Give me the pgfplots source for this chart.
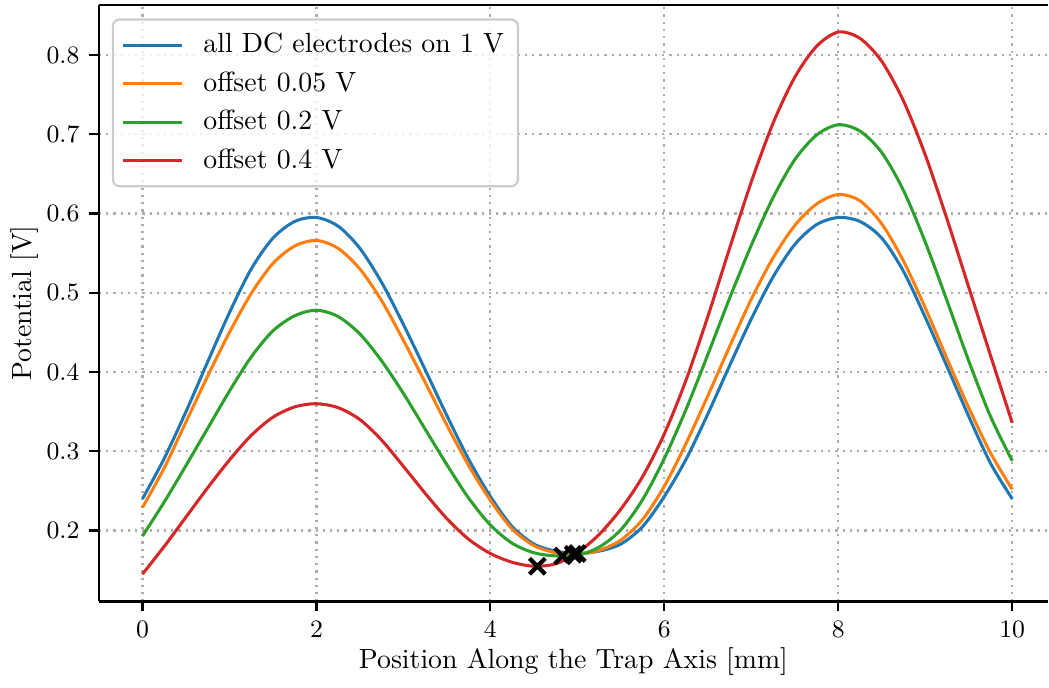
\documentclass[border=0pt]{standalone}
\usepackage{pgfplots}
\pgfplotsset{compat=1.18}
\definecolor{tabblue}{HTML}{1F77B4}
\definecolor{taborange}{HTML}{FF7F0E}
\definecolor{tabgreen}{HTML}{2CA02C}
\definecolor{tabred}{HTML}{D62728}

\begin{document}
\begin{tikzpicture}
\begin{axis}[
  scale only axis,
  width=341.7pt, height=214.9pt,
  xmin=-0.5, xmax=10.41, ymin=0.1105, ymax=0.8635,
  axis x line=box, axis y line=left,
  axis line style={-, line width=0.8pt},
  xtick={0,2,4,6,8,10},
  ytick={0.2,0.3,0.4,0.5,0.6,0.7,0.8},
  xtick pos=lower, ytick pos=left,
  tick align=outside, major tick length=3.5pt,
  tick style={line width=0.8pt, black},
  tick label style={font=\small},
  yticklabel style={/pgf/number format/fixed, /pgf/number format/precision=1, /pgf/number format/fixed zerofill},
  grid=major,
  grid style={black!32, line width=0.8pt, dash pattern=on 0.8pt off 1.8pt},
  xlabel={Position Along the Trap Axis [mm]},
  ylabel={Potential [V]},
  xlabel shift=-3pt, ylabel shift=-4pt,
  legend cell align=left,
  legend image code/.code={\draw[#1, line width=1.1pt] (0pt,0pt) -- (21.2pt,0pt);},
  legend style={at={(0,1)}, anchor=north west, xshift=4.6pt, yshift=-4.9pt,
    draw=black!20, line width=0.8pt, rounded corners=2.5pt,
    fill=white, fill opacity=0.8, text opacity=1,
    inner xsep=3pt, inner ysep=3pt, row sep=1.3pt,
    /tikz/every odd column/.append style={column sep=5.3pt}},
]
% all DC electrodes on 1 V
\addplot[tabblue, line width=1.1pt, smooth] coordinates {
  (0,0.240) (0.25,0.291) (0.5,0.350) (0.75,0.413) (1,0.475) (1.25,0.530)
  (1.5,0.569) (1.75,0.590) (2,0.595) (2.25,0.584) (2.5,0.556) (2.75,0.513)
  (3,0.460) (3.25,0.403) (3.5,0.345) (3.75,0.290) (4,0.243) (4.25,0.205)
  (4.5,0.183) (4.75,0.174) (5,0.171) (5.25,0.174) (5.5,0.183) (5.75,0.205)
  (6,0.243) (6.25,0.290) (6.5,0.347) (6.75,0.408) (7,0.467) (7.25,0.520)
  (7.5,0.561) (7.75,0.586) (8,0.595) (8.25,0.590) (8.5,0.569) (8.75,0.527)
  (9,0.469) (9.25,0.407) (9.5,0.344) (9.75,0.285) (10,0.240)};
\addlegendentry{all DC electrodes on 1 V}
% offset 0.05 V
\addplot[taborange, line width=1.1pt, smooth] coordinates {
  (0,0.229) (0.25,0.279) (0.5,0.337) (0.75,0.395) (1,0.450) (1.25,0.499)
  (1.5,0.537) (1.75,0.559) (2,0.566) (2.25,0.556) (2.5,0.530) (2.75,0.490)
  (3,0.440) (3.25,0.387) (3.5,0.333) (3.75,0.282) (4,0.238) (4.25,0.202)
  (4.5,0.181) (4.75,0.172) (5,0.170) (5.25,0.175) (5.5,0.188) (5.75,0.214)
  (6,0.256) (6.25,0.310) (6.5,0.370) (6.75,0.432) (7,0.492) (7.25,0.544)
  (7.5,0.585) (7.75,0.612) (8,0.624) (8.25,0.616) (8.5,0.587) (8.75,0.540)
  (9,0.481) (9.25,0.417) (9.5,0.355) (9.75,0.298) (10,0.252)};
\addlegendentry{offset 0.05 V}
% offset 0.2 V
\addplot[tabgreen, line width=1.1pt, smooth] coordinates {
  (0,0.193) (0.25,0.236) (0.5,0.282) (0.75,0.329) (1,0.376) (1.25,0.419)
  (1.5,0.452) (1.75,0.471) (2,0.478) (2.25,0.470) (2.5,0.448) (2.75,0.414)
  (3,0.373) (3.25,0.328) (3.5,0.283) (3.75,0.241) (4,0.207) (4.25,0.184)
  (4.5,0.172) (4.75,0.168) (5,0.169) (5.25,0.179) (5.5,0.201) (5.75,0.239)
  (6,0.291) (6.25,0.353) (6.5,0.422) (6.75,0.493) (7,0.560) (7.25,0.620)
  (7.5,0.668) (7.75,0.699) (8,0.712) (8.25,0.704) (8.5,0.677) (8.75,0.629)
  (9,0.564) (9.25,0.490) (9.5,0.414) (9.75,0.344) (10,0.288)};
\addlegendentry{offset 0.2 V}
% offset 0.4 V
\addplot[tabred, line width=1.1pt, smooth] coordinates {
  (0,0.145) (0.25,0.180) (0.5,0.217) (0.75,0.254) (1,0.289) (1.25,0.320)
  (1.5,0.343) (1.75,0.356) (2,0.360) (2.25,0.355) (2.5,0.340) (2.75,0.314)
  (3,0.281) (3.25,0.247) (3.5,0.215) (3.75,0.189) (4,0.171) (4.25,0.160)
  (4.5,0.155) (4.75,0.158) (5,0.172) (5.25,0.195) (5.5,0.227) (5.75,0.268)
  (6,0.322) (6.25,0.390) (6.5,0.470) (6.75,0.556) (7,0.640) (7.25,0.714)
  (7.5,0.772) (7.75,0.811) (8,0.829) (8.25,0.821) (8.5,0.792) (8.75,0.742)
  (9,0.674) (9.25,0.593) (9.5,0.507) (9.75,0.421) (10,0.336)};
\addlegendentry{offset 0.4 V}
% minima
\addplot[only marks, mark=x, mark size=4pt, black, line width=1.5pt, forget plot] coordinates {
  (4.54,0.155) (4.83,0.168) (4.95,0.170) (5.0,0.171)};
\end{axis}
\path ([xshift=-0.6pt,yshift=-1pt]current bounding box.south west)
      ([yshift=1.3pt]current bounding box.north east);
\end{tikzpicture}
\end{document}
